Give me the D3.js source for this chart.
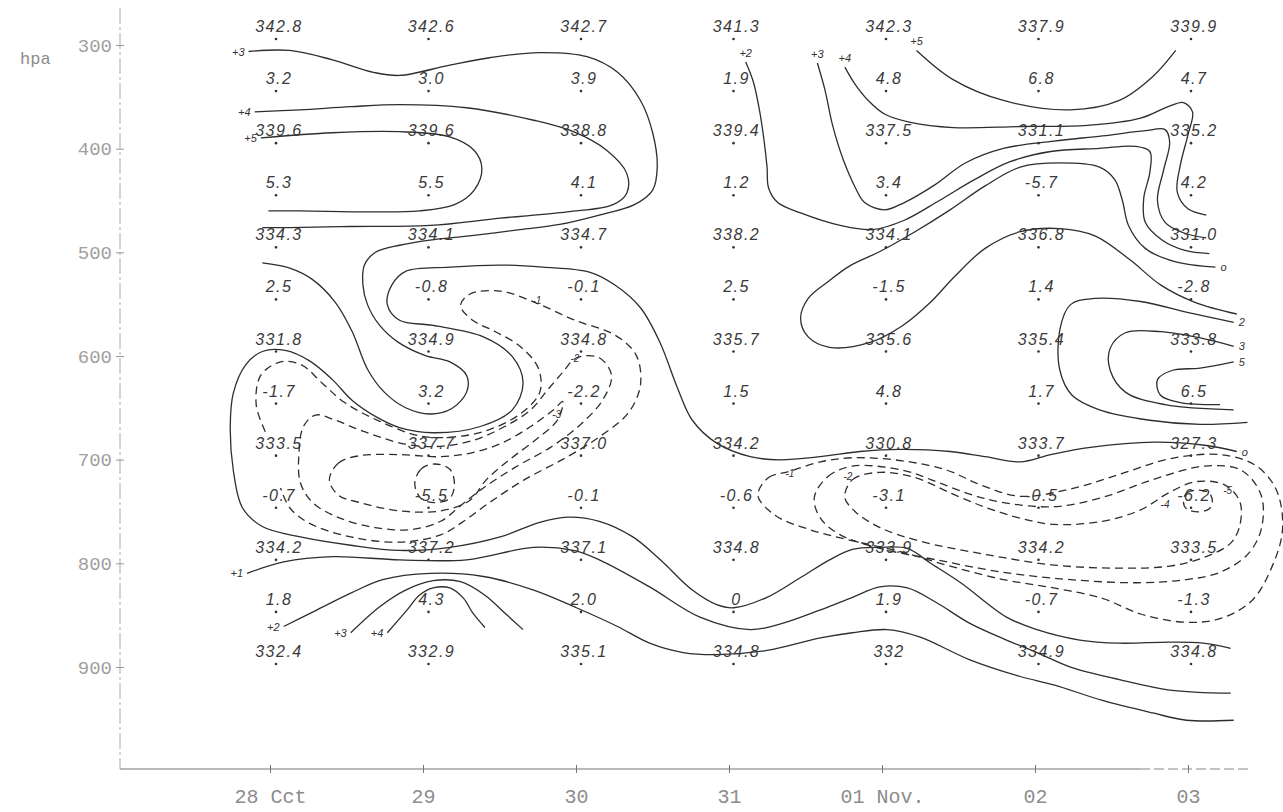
<!DOCTYPE html>
<html>
<head>
<meta charset="utf-8">
<script src="https://cdn.jsdelivr.net/npm/d3@7"></script>
<style>
  body { margin: 0; background: #fff; }
</style>
</head>
<body>
<div id="chart"></div>
<script>
// dates along the bottom and the pressure levels (hPa)
const days = ["28 Cct", "29", "30", "31", "01 Nov.", "02", "03"];
const hpaTicks = [300, 400, 500, 600, 700, 800, 900];
const thetaLevels = [300, 400, 500, 600, 700, 800, 900];
const diffLevels = [350, 450, 550, 650, 750, 850];

// potential temperature written at the main levels, one row per date
const thetaText = [
  ["342.8", "339.6", "334.3", "331.8", "333.5", "334.2", "332.4"],
  ["342.6", "339.6", "334.1", "334.9", "337.7", "337.2", "332.9"],
  ["342.7", "338.8", "334.7", "334.8", "337.0", "337.1", "335.1"],
  ["341.3", "339.4", "338.2", "335.7", "334.2", "334.8", "334.8"],
  ["342.3", "337.5", "334.1", "335.6", "330.8", "333.9", "332"],
  ["337.9", "331.1", "336.8", "335.4", "333.7", "334.2", "334.9"],
  ["339.9", "335.2", "331.0", "333.8", "327.3", "333.5", "334.8"]
];

// differences written between the levels, one row per date
const diffText = [
  ["3.2", "5.3", "2.5", "-1.7", "-0.7", "1.8"],
  ["3.0", "5.5", "-0.8", "3.2", "-5.5", "4.3"],
  ["3.9", "4.1", "-0.1", "-2.2", "-0.1", "2.0"],
  ["1.9", "1.2", "2.5", "1.5", "-0.6", "0"],
  ["4.8", "3.4", "-1.5", "4.8", "-3.1", "1.9"],
  ["6.8", "-5.7", "1.4", "1.7", "-0.5", "-0.7"],
  ["4.7", "4.2", "-2.8", "6.5", "-6.2", "-1.3"]
];

// contour lines, points are [date index, hPa]
const cPlus3Top = [[-0.18,312],[0.09,311],[0.37,320],[0.64,332],[0.81,335],[1.14,325],[1.40,318],[1.73,313],[2.04,317],[2.24,332],[2.39,359],[2.47,390],[2.50,423],[2.47,445],[2.35,459],[2.12,469],[1.86,478],[1.60,483],[1.27,489],[1.01,493],[0.81,498],[0.65,505],[0.58,517],[0.57,536],[0.60,555],[0.68,575],[0.80,591],[0.98,604],[1.14,610],[1.25,623],[1.25,639],[1.15,655],[1.01,660],[0.85,654],[0.71,639],[0.60,617],[0.50,581],[0.39,553],[0.24,531],[0.09,520],[-0.09,515]];
const cPlus4Top = [[-0.14,370],[0.16,368],[0.49,365],[0.81,363],[1.25,366],[1.69,378],[1.95,389],[2.17,407],[2.30,429],[2.30,448],[2.21,459],[1.91,466],[1.47,472],[1.01,479],[0.49,480],[0.09,481],[-0.09,481]];
const cPlus5Top = [[-0.10,395],[0.37,390],[0.81,389],[1.14,394],[1.30,407],[1.35,424],[1.30,445],[1.17,459],[0.94,465],[0.62,466],[0.16,465],[-0.05,465]];
const cPlus2Right = [[3.08,322],[3.13,341],[3.17,368],[3.20,397],[3.22,423],[3.23,443],[3.29,457],[3.44,467],[3.70,479],[3.91,483],[4.12,474],[4.35,455],[4.58,435],[4.81,418],[5.08,408],[5.40,405],[5.63,403],[5.73,408],[5.73,428],[5.69,453],[5.70,476],[5.81,493],[5.96,503],[6.12,506]];
const cPlus3Right = [[3.55,323],[3.60,349],[3.65,383],[3.72,416],[3.80,443],[3.86,457],[3.99,464],[4.12,457],[4.32,440],[4.52,419],[4.77,405],[5.10,398],[5.42,393],[5.70,388],[5.83,387],[5.86,399],[5.82,426],[5.78,455],[5.83,476],[5.95,486],[6.10,491]];
const cPlus4Right = [[3.73,327],[3.80,344],[3.89,360],[3.99,372],[4.16,380],[4.44,385],[4.88,384],[5.32,383],[5.67,376],[5.85,365],[5.95,361],[6.01,370],[5.98,392],[5.93,421],[5.91,447],[5.98,463],[6.10,469]];
const cPlus5Right = [[4.20,311],[4.44,339],[4.77,359],[5.21,368],[5.53,359],[5.75,336],[5.90,311]];
const cZeroUpper = [[6.16,519],[5.90,514],[5.70,501],[5.59,479],[5.55,455],[5.50,435],[5.40,423],[5.14,419],[4.88,423],[4.65,441],[4.42,464],[4.19,485],[3.96,504],[3.76,518],[3.62,533],[3.49,549],[3.44,568],[3.49,586],[3.63,596],[3.90,591],[4.11,575],[4.29,553],[4.45,528],[4.65,501],[4.88,485],[5.14,482],[5.37,489],[5.60,512],[5.80,536],[6.03,553],[6.30,564]];
const cTwoLoop = [[6.28,572],[5.99,563],[5.67,552],[5.37,549],[5.21,555],[5.14,579],[5.14,618],[5.22,642],[5.40,656],[5.73,666],[6.06,670],[6.37,668]];
const cThreeLoop = [[6.28,595],[6.06,587],[5.80,581],[5.57,582],[5.47,597],[5.47,618],[5.57,639],[5.83,651],[6.28,656]];
const cFiveLoop = [[6.28,610],[6.06,616],[5.88,618],[5.78,627],[5.80,642],[5.93,649],[6.19,651]];
const cZeroMain = [[6.30,696],[6.09,690],[5.76,687],[5.34,692],[5.08,699],[4.88,706],[4.65,701],[4.42,696],[4.09,694],[3.83,696],[3.57,701],[3.30,704],[3.11,701],[2.89,688],[2.73,666],[2.63,634],[2.52,592],[2.39,558],[2.22,536],[2.06,524],[1.75,519],[1.47,517],[1.14,519],[0.85,523],[0.76,536],[0.73,555],[0.81,570],[1.03,575],[1.36,586],[1.55,605],[1.62,630],[1.55,656],[1.34,672],[1.03,678],[0.81,673],[0.66,663],[0.50,647],[0.37,627],[0.22,609],[0.06,599],[-0.09,600],[-0.20,613],[-0.28,640],[-0.30,672],[-0.28,714],[-0.22,750],[-0.09,768],[0.16,778],[0.49,786],[0.81,791],[1.14,788],[1.47,778],[1.73,764],[1.91,759],[2.12,763],[2.34,778],[2.52,800],[2.73,829],[2.89,843],[3.00,846],[3.22,836],[3.44,817],[3.63,800],[3.78,790],[3.96,788],[4.14,789],[4.29,803],[4.49,822],[4.79,855],[4.99,867],[5.27,877],[5.53,880],[5.86,879],[6.08,880],[6.26,885]];
const cPlus1Low = [[-0.19,813],[0.05,802],[0.37,797],[0.81,800],[1.25,800],[1.69,788],[1.95,791],[2.12,800],[2.45,826],[2.78,855],[3.11,867],[3.32,861],[3.57,848],[3.78,836],[3.96,826],[4.14,827],[4.33,841],[4.55,861],[4.79,877],[4.99,889],[5.21,903],[5.53,915],[5.86,925],[6.26,928]];
const cPlus2Low = [[0.05,864],[0.27,848],[0.49,832],[0.70,819],[1.01,813],[1.36,816],[1.69,829],[1.97,846],[2.24,864],[2.45,880],[2.67,889],[2.89,891],[3.22,887],[3.57,875],[3.78,870],[4.01,867],[4.22,874],[4.55,896],[4.88,912],[5.10,920],[5.42,935],[5.75,947],[5.97,954],[6.28,954]];
const cPlus3Low = [[0.49,870],[0.68,845],[0.85,829],[1.03,820],[1.21,821],[1.37,834],[1.50,851],[1.62,867]];
const cPlus4Low = [[0.73,870],[0.86,848],[0.94,834],[1.03,827],[1.14,827],[1.23,837],[1.29,851],[1.37,865]];

// dashed (negative) contours
const dMinus1Left = [[-0.07,677],[-0.13,651],[-0.10,623],[0.03,610],[0.17,613],[0.30,630],[0.45,649],[0.68,667],[0.94,681],[1.17,682],[1.40,675],[1.61,659],[1.73,639],[1.72,616],[1.60,595],[1.44,581],[1.29,570],[1.21,556],[1.27,545],[1.47,542],[1.70,553],[1.96,570],[2.22,584],[2.36,603],[2.39,632],[2.31,659],[2.12,682],[1.90,702],[1.63,723],[1.40,745],[1.22,764],[1.08,776],[0.81,783],[0.49,778],[0.22,765],[0.09,750],[0.03,731]];
const dMinus2Left = [[1.97,606],[2.12,606],[2.20,623],[2.14,647],[1.99,671],[1.80,692],[1.57,711],[1.36,731],[1.21,748],[1.08,763],[0.88,771],[0.65,769],[0.42,760],[0.24,745],[0.16,726],[0.15,699],[0.18,672],[0.26,661],[0.39,666],[0.58,677],[0.85,689],[1.08,691],[1.30,685],[1.50,672],[1.67,656],[1.78,637],[1.88,620]];
const dMinus3Left = [[0.35,723],[0.41,707],[0.55,700],[0.81,699],[1.08,701],[1.29,697],[1.48,688],[1.67,672],[1.82,656],[1.88,648],[1.85,665],[1.71,684],[1.53,704],[1.38,723],[1.27,743],[1.08,753],[0.81,753],[0.55,745],[0.41,738]];
const dMinus5Left = [[0.91,727],[0.95,713],[1.04,708],[1.14,713],[1.17,727],[1.14,741],[1.04,745],[0.95,741]];
const dOuterRight = [[3.16,738],[3.23,721],[3.37,715],[3.57,706],[3.78,702],[4.11,705],[4.40,714],[4.62,728],[4.88,739],[5.21,732],[5.53,718],[5.86,703],[6.19,699],[6.42,709],[6.56,733],[6.60,771],[6.53,807],[6.40,839],[6.20,856],[5.97,860],[5.67,852],[5.42,837],[5.10,827],[4.77,819],[4.42,806],[4.09,792],[3.76,781],[3.50,771],[3.27,757]];
const dMiddleRight = [[3.53,740],[3.62,720],[3.78,710],[4.11,714],[4.33,725],[4.55,737],[4.77,745],[5.10,749],[5.42,740],[5.75,723],[6.09,710],[6.33,714],[6.46,738],[6.46,771],[6.37,795],[6.19,812],[5.97,819],[5.65,822],[5.21,819],[4.77,812],[4.33,800],[3.96,789],[3.70,776],[3.57,760]];
const dInnerRight = [[3.73,740],[3.78,723],[3.96,716],[4.19,721],[4.44,737],[4.66,750],[4.88,760],[5.10,766],[5.42,763],[5.67,752],[5.85,736],[6.03,725],[6.22,728],[6.32,744],[6.32,767],[6.26,784],[6.08,798],[5.86,806],[5.53,808],[5.10,805],[4.66,795],[4.22,782],[3.96,769],[3.80,754]];
const dMinus6Right = [[5.95,744],[5.97,736],[6.05,733],[6.12,736],[6.14,744],[6.12,751],[6.05,754],[5.97,751]];

const contours = [
  { pts: cPlus3Top, label: "+3", side: "left" },
  { pts: cPlus4Top, label: "+4", side: "left" },
  { pts: cPlus5Top, label: "+5", side: "left" },
  { pts: cPlus2Right, label: "+2", side: "above" },
  { pts: cPlus3Right, label: "+3", side: "above" },
  { pts: cPlus4Right, label: "+4", side: "above" },
  { pts: cPlus5Right, label: "+5", side: "above" },
  { pts: cZeroUpper, label: "o", side: "right" },
  { pts: cTwoLoop, label: "2", side: "right" },
  { pts: cThreeLoop, label: "3", side: "right" },
  { pts: cFiveLoop, label: "5", side: "right" },
  { pts: cZeroMain, label: "o", side: "right" },
  { pts: cPlus1Low, label: "+1", side: "left" },
  { pts: cPlus2Low, label: "+2", side: "left" },
  { pts: cPlus3Low, label: "+3", side: "left" },
  { pts: cPlus4Low, label: "+4", side: "left" },
  { pts: dMinus1Left, dashed: true },
  { pts: dMinus2Left, dashed: true, closed: true },
  { pts: dMinus3Left, dashed: true, closed: true },
  { pts: dMinus5Left, dashed: true, closed: true },
  { pts: dOuterRight, dashed: true, closed: true },
  { pts: dMiddleRight, dashed: true, closed: true },
  { pts: dInnerRight, dashed: true, closed: true },
  { pts: dMinus6Right, dashed: true, closed: true }
];

// little value marks written on the dashed lines
const dashMarks = [
  ["-1", 1.71, 554], ["-2", 1.96, 610], ["-3", 1.84, 664],
  ["-1", 3.37, 720], ["-2", 3.75, 723], ["-5", 6.24, 737], ["-4", 5.83, 750]
];

const chartWidth = 1283;
const chartHeight = 812;
const axisX = 120;
const axisY = 769;

const svg = d3.select("#chart")
  .append("svg")
  .attr("width", chartWidth)
  .attr("height", chartHeight)
  .style("background", "#fff");

// grid of the written values
const x = d3.scaleLinear().domain([0, 6]).range([276, 1191]);
const y = d3.scaleLinear().domain([300, 900]).range([39, 664]);
// the printed axes sit a few pixels off the hand grid
const xAxisScale = d3.scaleLinear().domain([0, 6]).range([270, 1188]);
const yAxisScale = d3.scaleLinear().domain([300, 900]).range([45, 667]);

// axis lines
svg.append("line")
  .attr("x1", axisX).attr("x2", axisX)
  .attr("y1", 8).attr("y2", axisY)
  .attr("stroke", "#aaa")
  .attr("stroke-width", 1)
  .attr("stroke-dasharray", "16,3,3,3");

svg.append("line")
  .attr("x1", axisX).attr("x2", 1140)
  .attr("y1", axisY).attr("y2", axisY)
  .attr("stroke", "#777")
  .attr("stroke-width", 1.2);

svg.append("line")
  .attr("x1", 1140).attr("x2", 1250)
  .attr("y1", axisY).attr("y2", axisY)
  .attr("stroke", "#888")
  .attr("stroke-width", 1.1)
  .attr("stroke-dasharray", "10,4");

const yAxis = d3.axisLeft(yAxisScale).tickValues(hpaTicks).tickSize(0).tickPadding(8);
const gy = svg.append("g")
  .attr("transform", `translate(${axisX},0)`)
  .call(yAxis);
gy.select(".domain").remove();
gy.selectAll(".tick line").attr("x1", -4).attr("x2", 4).attr("stroke", "#999");
gy.selectAll("text")
  .attr("font-family", "Liberation Mono, DejaVu Sans Mono, monospace")
  .attr("font-size", 19)
  .attr("fill", "#a0a0a0");

const xAxis = d3.axisBottom(xAxisScale)
  .tickValues(d3.range(days.length))
  .tickFormat(i => days[i])
  .tickSize(0)
  .tickPadding(20);
const gx = svg.append("g")
  .attr("transform", `translate(0,${axisY})`)
  .call(xAxis);
gx.select(".domain").remove();
gx.selectAll(".tick line").attr("y1", -4).attr("y2", 4).attr("stroke", "#777");
gx.selectAll("text")
  .attr("font-family", "Liberation Mono, DejaVu Sans Mono, monospace")
  .attr("font-size", 20)
  .attr("fill", "#8c8c8c");

svg.append("text")
  .attr("x", 20)
  .attr("y", 64)
  .attr("font-family", "Liberation Mono, DejaVu Sans Mono, monospace")
  .attr("font-size", 17)
  .attr("fill", "#8c8c8c")
  .text("hpa");

// contour lines
const lineOpen = d3.line()
  .x(d => x(d[0]))
  .y(d => y(d[1]))
  .curve(d3.curveCatmullRom.alpha(0.5));
const lineClosed = d3.line()
  .x(d => x(d[0]))
  .y(d => y(d[1]))
  .curve(d3.curveCatmullRomClosed.alpha(0.5));

svg.append("g").selectAll("path")
  .data(contours)
  .enter().append("path")
  .attr("d", c => c.closed ? lineClosed(c.pts) : lineOpen(c.pts))
  .attr("fill", "none")
  .attr("stroke", "#2e2e2e")
  .attr("stroke-width", 1.3)
  .attr("stroke-dasharray", c => c.dashed ? "8,5" : null);

// contour labels at the free end of each line
svg.append("g").selectAll("text")
  .data(contours.filter(c => c.label))
  .enter().append("text")
  .attr("x", c => {
    const px = x(c.pts[0][0]);
    return c.side === "left" ? px - 4 : c.side === "right" ? px + 5 : px;
  })
  .attr("y", c => {
    const py = y(c.pts[0][1]);
    return c.side === "above" ? py - 5 : py + 4;
  })
  .attr("text-anchor", c => c.side === "left" ? "end" : c.side === "right" ? "start" : "middle")
  .attr("font-family", "Liberation Sans, Arial, sans-serif")
  .attr("font-style", "italic")
  .attr("font-size", 11)
  .attr("fill", "#333")
  .text(c => c.label);

svg.append("g").selectAll("text")
  .data(dashMarks)
  .enter().append("text")
  .attr("x", d => x(d[1]))
  .attr("y", d => y(d[2]))
  .attr("text-anchor", "middle")
  .attr("font-family", "Liberation Sans, Arial, sans-serif")
  .attr("font-style", "italic")
  .attr("font-size", 10)
  .attr("fill", "#333")
  .text(d => d[0]);

// written values with their dots
const cells = [];
days.forEach((day, i) => {
  thetaLevels.forEach((p, j) => cells.push({ i, p, t: thetaText[i][j] }));
  diffLevels.forEach((p, j) => cells.push({ i, p, t: diffText[i][j] }));
});

const cellG = svg.append("g");
cellG.selectAll("circle")
  .data(cells)
  .enter().append("circle")
  .attr("cx", d => x(d.i))
  .attr("cy", d => y(d.p))
  .attr("r", 1.3)
  .attr("fill", "#333");

cellG.selectAll("text")
  .data(cells)
  .enter().append("text")
  .attr("x", d => x(d.i) + 3)
  .attr("y", d => y(d.p) - 7)
  .attr("text-anchor", "middle")
  .attr("font-family", "Liberation Sans, Arial, sans-serif")
  .attr("font-style", "italic")
  .attr("font-size", 16)
  .attr("letter-spacing", 1.5)
  .attr("fill", "#3a3a3a")
  .text(d => d.t);
</script>
</body>
</html>
